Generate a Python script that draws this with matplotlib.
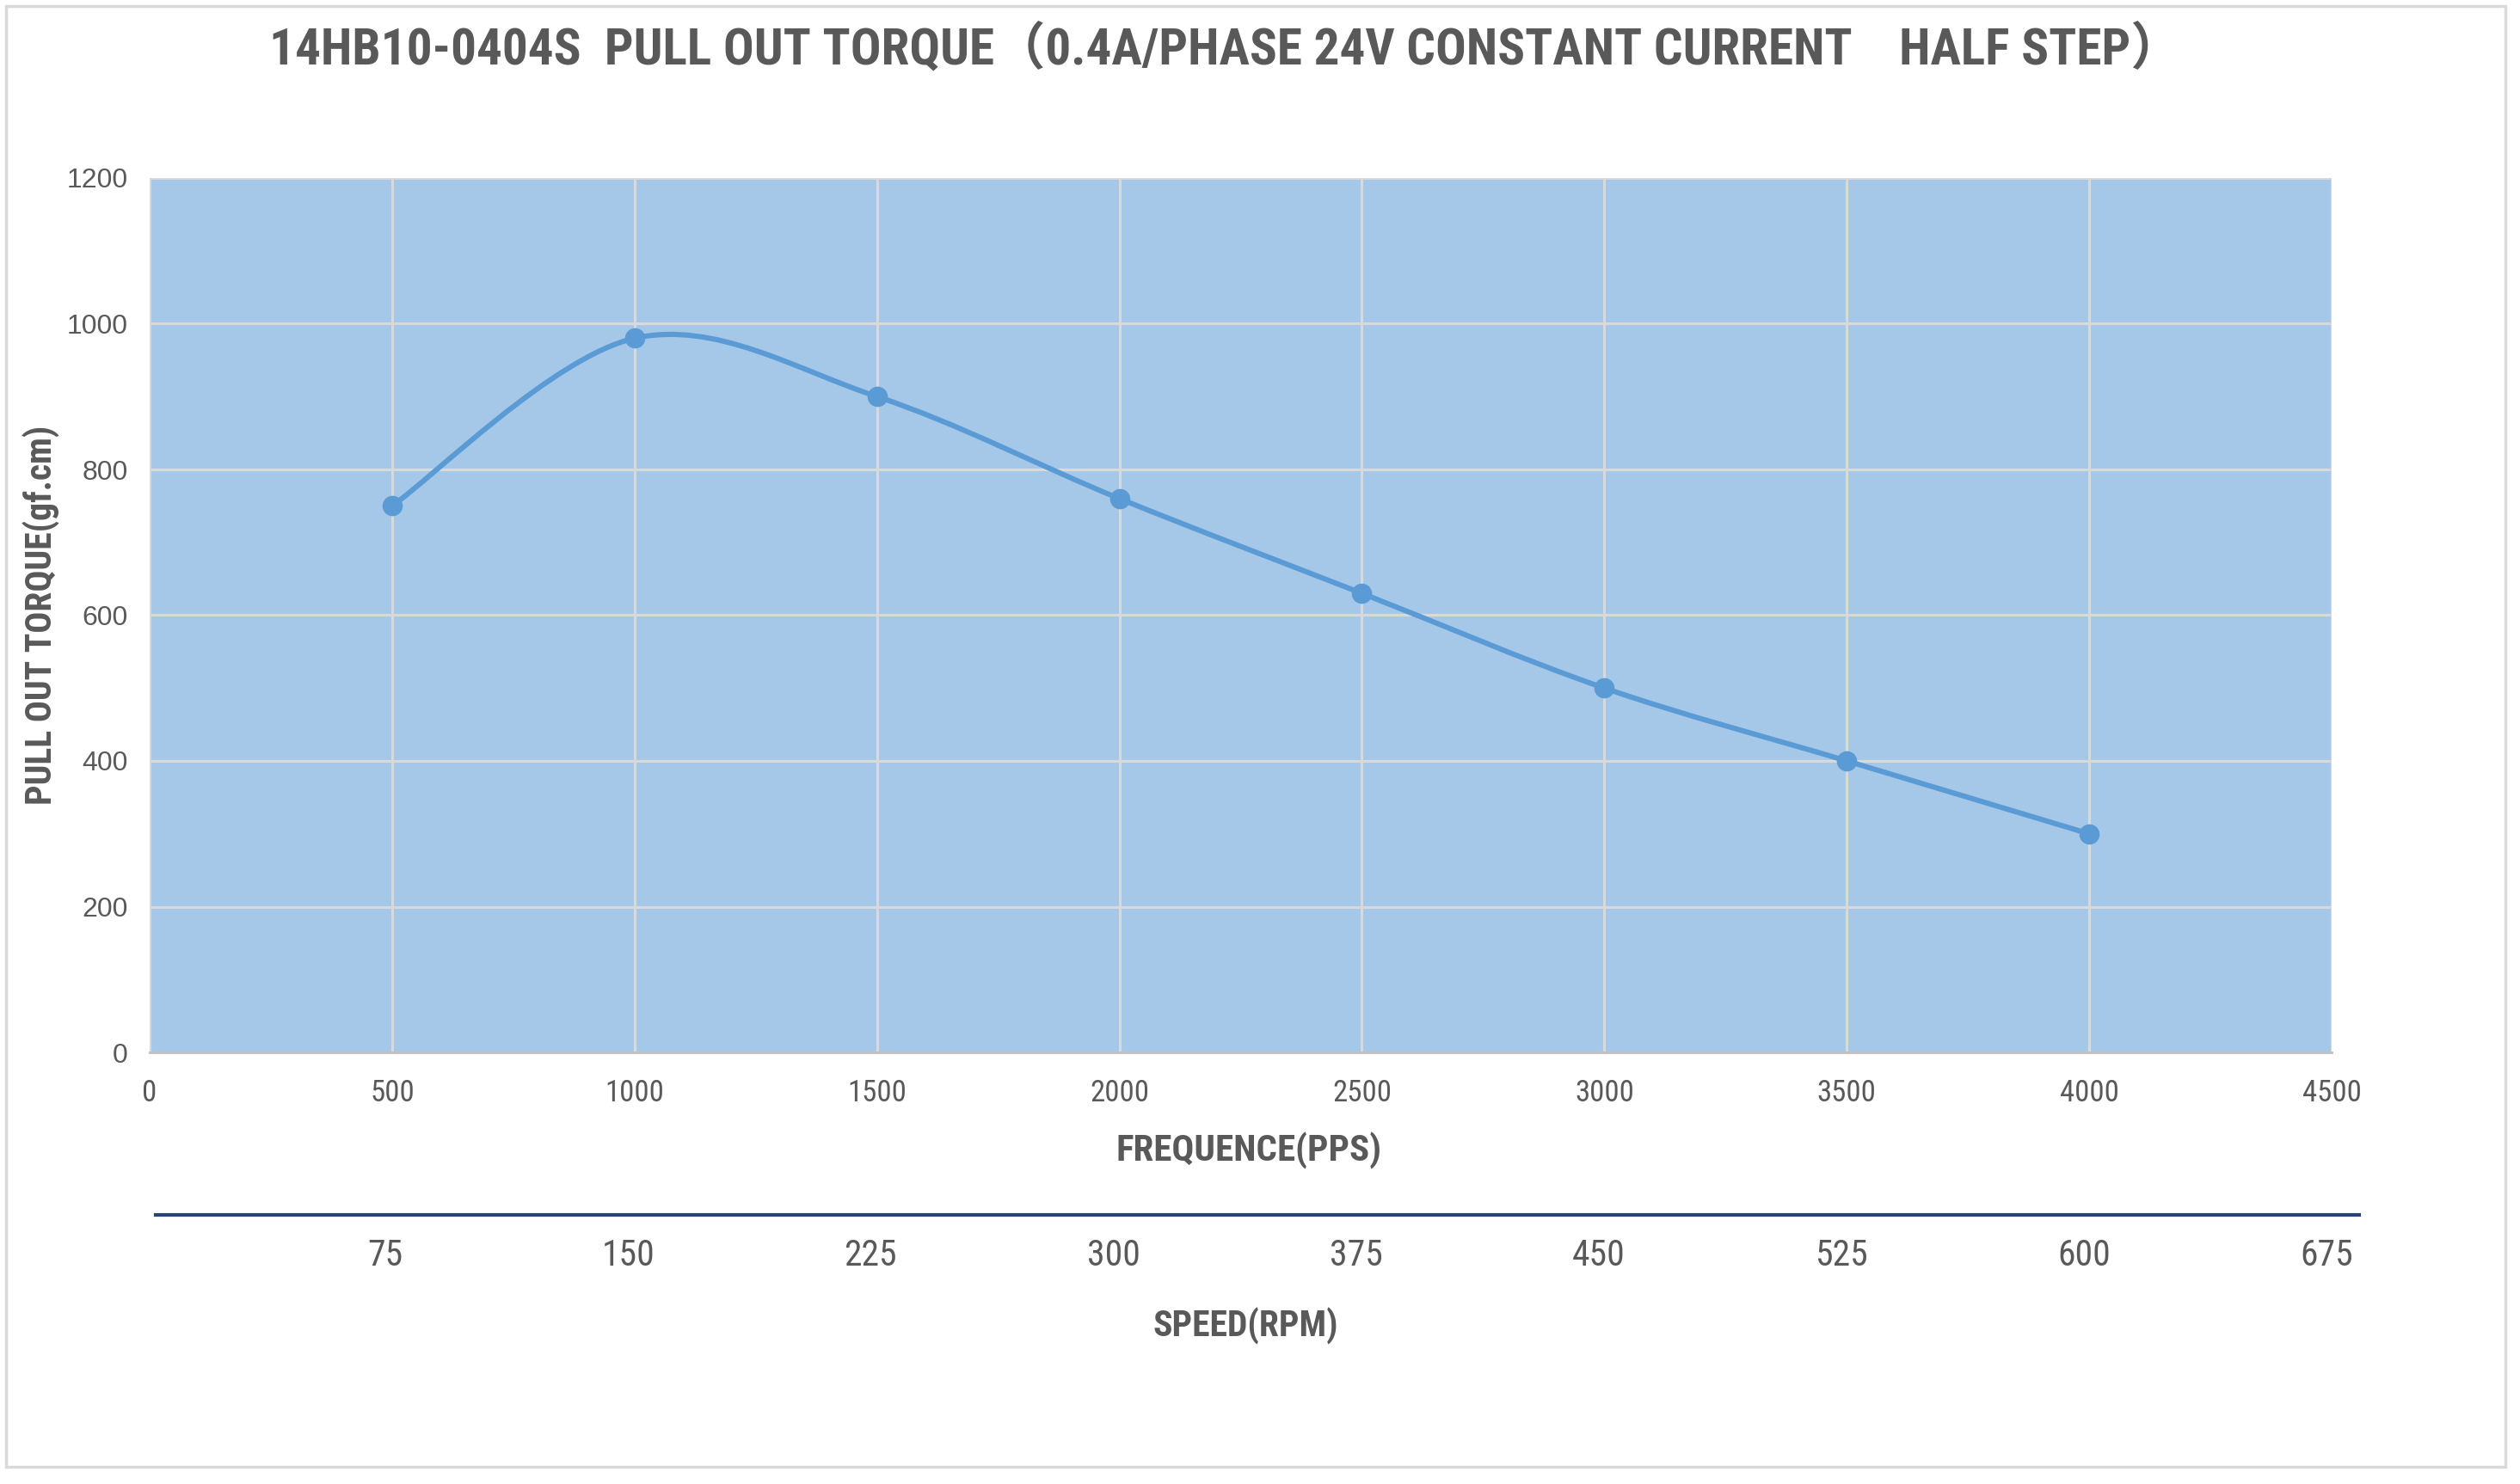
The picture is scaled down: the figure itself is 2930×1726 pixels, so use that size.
import numpy as np
import matplotlib
matplotlib.use("Agg")
import matplotlib.pyplot as plt
from matplotlib.path import Path
from matplotlib.patches import PathPatch, Rectangle

# data
freq_pps = [500, 1000, 1500, 2000, 2500, 3000, 3500, 4000]
torque_gfcm = [750, 980, 900, 760, 630, 500, 400, 300]
freq_ticks = [0, 500, 1000, 1500, 2000, 2500, 3000, 3500, 4000, 4500]
torque_ticks = [0, 200, 400, 600, 800, 1000, 1200]
speed_ticks = [75, 150, 225, 300, 375, 450, 525, 600, 675]

TITLE = "14HB10-0404S  PULL OUT TORQUE\uff080.4A/PHASE 24V CONSTANT CURRENT    HALF STEP\uff09"

NARROW = ["Roboto Condensed", "Noto Sans CJK SC", "DejaVu Sans"]
REGULAR = ["Liberation Sans", "DejaVu Sans"]
GREY = "#595959"
LINE = "#5B9BD5"

W, H = 2930, 1726
fig = plt.figure(figsize=(W / 100, H / 100), dpi=100)

# outer frame
fig.patches.append(Rectangle((7 / W, 1 - 1706 / H), (2913 - 7) / W, (1706 - 7) / H,
                             transform=fig.transFigure, fill=False,
                             edgecolor="#D9D9D9", linewidth=2.5))

ax = fig.add_axes([174 / W, 1 - 1224 / H, (2711 - 174) / W, (1224 - 207) / H])
ax.set_facecolor("#A6C8E8")
ax.set_xlim(0, 4500)
ax.set_ylim(0, 1200)
ax.set_xticks(freq_ticks)
ax.set_yticks(torque_ticks)
ax.grid(True, color="#D9D9D9", linewidth=2.2)
ax.set_axisbelow(True)
for s in ["top", "right", "left"]:
    ax.spines[s].set_visible(False)
ax.spines["bottom"].set_color("#BFBFBF")
ax.spines["bottom"].set_linewidth(2)
ax.tick_params(length=0)
ax.tick_params(axis="x", pad=22)
ax.tick_params(axis="y", pad=18)
for lab in ax.get_xticklabels():
    lab.set_fontfamily(NARROW)
    lab.set_fontsize(25)
    lab.set_color(GREY)
for lab in ax.get_yticklabels():
    lab.set_fontfamily(REGULAR)
    lab.set_fontsize(23)
    lab.set_color(GREY)

# smoothed curve through the points (Catmull-Rom as cubic Bezier)
pts = np.column_stack([freq_pps, torque_gfcm]).astype(float)
verts = [pts[0]]
codes = [Path.MOVETO]
n = len(pts)
for i in range(n - 1):
    p0 = pts[max(i - 1, 0)]
    p1 = pts[i]
    p2 = pts[i + 1]
    p3 = pts[min(i + 2, n - 1)]
    verts += [p1 + (p2 - p0) / 6, p2 - (p3 - p1) / 6, p2]
    codes += [Path.CURVE4] * 3
ax.add_patch(PathPatch(Path(verts, codes), facecolor="none", edgecolor=LINE,
                       linewidth=4.4, capstyle="round", zorder=3))
ax.plot(freq_pps, torque_gfcm, linestyle="none", marker="o", markersize=16,
        color=LINE, zorder=4)

ax.set_ylabel("PULL OUT TORQUE(gf.cm)", fontfamily=NARROW, fontsize=30,
              fontweight="bold", color=GREY)
ax.yaxis.set_label_coords((48 - 174) / (2711 - 174), 0.5)
ax.set_xlabel("FREQUENCE(PPS)", fontfamily=NARROW, fontsize=31,
              fontweight="bold", color=GREY)
ax.xaxis.set_label_coords((1452 - 174) / (2711 - 174), -(1338 - 1224) / (1224 - 207))
ax.xaxis.label.set_va("center")
ax.yaxis.label.set_va("center")

# speed scale underneath
ax2 = fig.add_axes([181 / W, 1 - 1440 / H, (2743 - 181) / W, 27 / H])
ax2.set_xlim(4, 685)
ax2.set_ylim(0, 1)
ax2.patch.set_visible(False)
for s in ["bottom", "right", "left"]:
    ax2.spines[s].set_visible(False)
ax2.spines["top"].set_color("#264478")
ax2.spines["top"].set_linewidth(3)
ax2.set_yticks([])
ax2.set_xticks(speed_ticks)
ax2.tick_params(length=0, pad=0)
for lab in ax2.get_xticklabels():
    lab.set_fontfamily(NARROW)
    lab.set_fontsize(30)
    lab.set_color(GREY)

fig.text(1448 / W, 1 - 1542 / H, "SPEED(RPM)", fontfamily=NARROW, fontsize=30,
         fontweight="bold", color=GREY, ha="center", va="center")

fig.text(1425 / W, 1 - 58 / H, TITLE, fontfamily=NARROW, fontsize=42.7,
         fontweight="bold", color=GREY, ha="center", va="center")

fig.savefig("out.png", dpi=100, facecolor="white")
